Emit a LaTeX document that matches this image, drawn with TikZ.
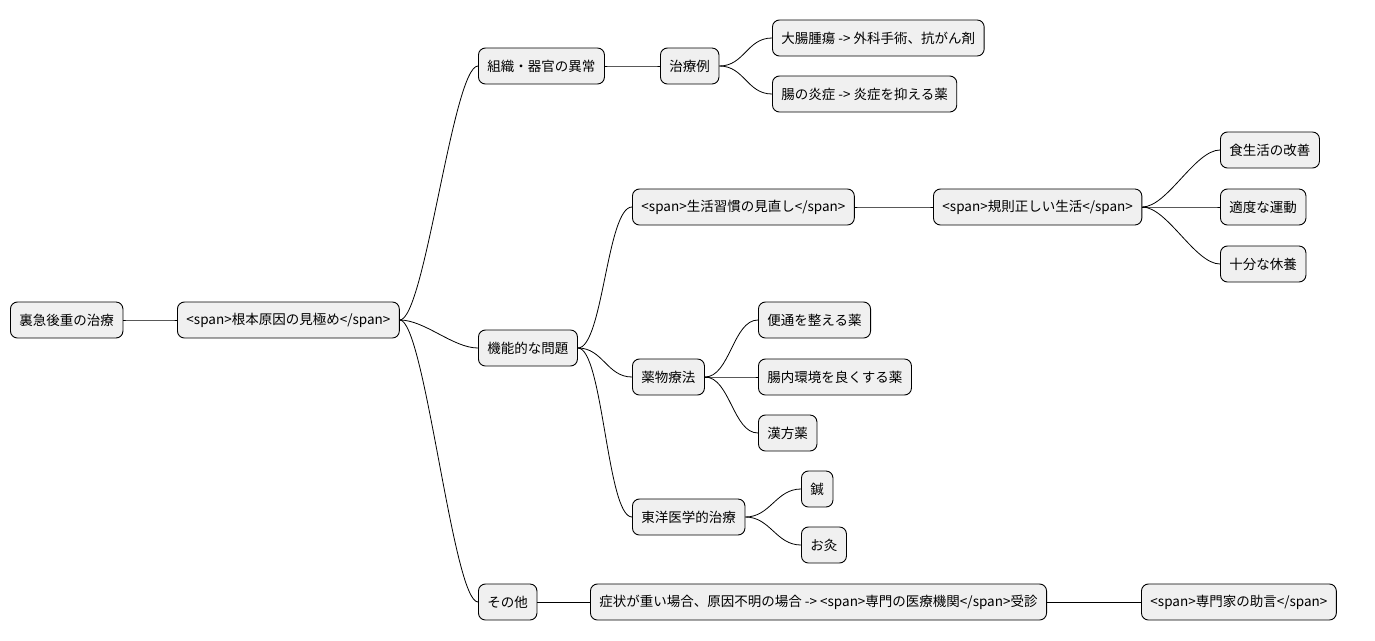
\documentclass[tikz,border=0pt]{standalone}
\usepackage{fontspec}
\setmainfont{Noto Sans CJK JP}
\begin{document}
\begin{tikzpicture}[x=1pt,y=-1pt,
  box/.style={draw=black,fill=black!6,rounded corners=7pt,line width=0.9pt,minimum height=36pt,inner xsep=9pt,anchor=west,font=\fontsize{13.5}{16}\selectfont},
  link/.style={line width=0.8pt}]
\useasboundingbox (0,0) rectangle (1375,640);
\node[box] (r) at (10,320) {裏急後重の治療};
\node[box] (a) at (177,320) {<span>根本原因の見極め</span>};
\node[box] (b1) at (478,66) {組織・器官の異常};
\node[box] (b2) at (478,348) {機能的な問題};
\node[box] (b3) at (478,602) {その他};
\node[box] (c1) at (660,66) {治療例};
\node[box] (d1) at (772,38) {大腸腫瘍 -> 外科手術、抗がん剤};
\node[box] (d2) at (772,94) {腸の炎症 -> 炎症を抑える薬};
\node[box] (c2) at (632,207) {<span>生活習慣の見直し</span>};
\node[box] (c3) at (632,377) {薬物療法};
\node[box] (c4) at (632,517) {東洋医学的治療};
\node[box] (e1) at (933,207) {<span>規則正しい生活</span>};
\node[box] (f1) at (1220,150) {食生活の改善};
\node[box] (f2) at (1220,207) {適度な運動};
\node[box] (f3) at (1220,264) {十分な休養};
\node[box] (g1) at (758,320) {便通を整える薬};
\node[box] (g2) at (758,377) {腸内環境を良くする薬};
\node[box] (g3) at (758,433) {漢方薬};
\node[box] (h1) at (801,489) {鍼};
\node[box] (h2) at (801,545) {お灸};
\node[box] (c5) at (590,602) {症状が重い場合、原因不明の場合 -> <span>専門の医療機関</span>受診};
\node[box] (c6) at (1141,602) {<span>専門家の助言</span>};
\foreach \p/\c in {r/a,a/b1,a/b2,a/b3,b1/c1,c1/d1,c1/d2,b2/c2,b2/c3,b2/c4,c2/e1,e1/f1,e1/f2,e1/f3,c3/g1,c3/g2,c3/g3,c4/h1,c4/h2,b3/c5,c5/c6}
  \draw[link] (\p.east) .. controls +(25,0) and +(-25,0) .. (\c.west);
\end{tikzpicture}
\end{document}
